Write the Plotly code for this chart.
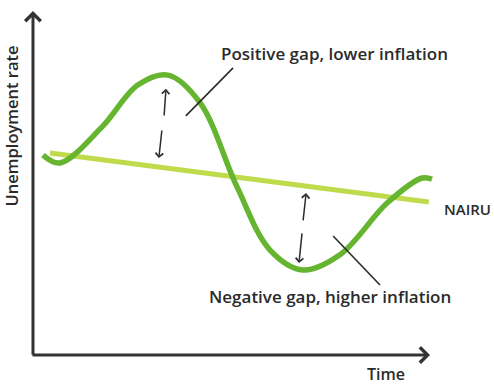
import plotly.graph_objects as go

# ---- data (chart units: time 0-100, unemployment 0-100) ----
time_pts = [2.5, 6.8, 17.4, 26.4, 34.0, 42.1, 51.4, 59.7, 68.0, 77.3, 89.2, 98.0, 100.5]
unemployment = [58.3, 56.0, 66.5, 78.7, 81.6, 73.5, 49.0, 30.6, 24.8, 29.2, 44.3, 51.6, 51.3]

nairu_time = [4.3, 99.7]
nairu_rate = [58.9, 44.6]

# gap arrows: (head_x, head_y, tail_x, tail_y)
gap_arrows = [
    (33.5, 77.6, 33.0, 69.4),
    (31.7, 57.4, 32.5, 65.9),
    (68.8, 47.2, 68.0, 38.8),
    (67.0, 26.8, 67.8, 35.9),
]

leader1_x = [38.5, 50.4]
leader1_y = [69.7, 83.7]
leader2_x = [75.6, 87.4]
leader2_y = [34.7, 20.4]

labels = {
    "pos": "Positive gap, lower inflation",
    "neg": "Negative gap, higher inflation",
    "nairu": "NAIRU",
    "x": "Time",
    "y": "Unemployment rate",
}

X_RANGE = [-8.31, 116.12]
Y_RANGE = [-9.04, 103.5]

GREEN = "#66B530"
LIME = "#BFDB4C"
INK = "#2b2b2b"
AXIS = "#333333"
FONT = dict(family="Open Sans", size=17, color=INK, weight=600)

fig = go.Figure()

fig.add_trace(go.Scatter(x=nairu_time, y=nairu_rate, mode="lines",
                         line=dict(color=LIME, width=5), hoverinfo="skip"))
fig.add_trace(go.Scatter(x=time_pts, y=unemployment, mode="lines",
                         line=dict(color=GREEN, width=5.5, shape="spline", smoothing=1.0),
                         hoverinfo="skip"))
fig.add_trace(go.Scatter(x=leader1_x, y=leader1_y, mode="lines",
                         line=dict(color=INK, width=1.6), hoverinfo="skip"))
fig.add_trace(go.Scatter(x=leader2_x, y=leader2_y, mode="lines",
                         line=dict(color=INK, width=1.6), hoverinfo="skip"))

annotations = []
# axes with arrows
annotations.append(dict(x=100, y=0, ax=-0.5, ay=0, xref="x", yref="y", axref="x", ayref="y",
                        text="", showarrow=True, arrowhead=4, arrowsize=1, arrowwidth=3,
                        arrowcolor=AXIS))
annotations.append(dict(x=0, y=100.3, ax=0, ay=-0.4, xref="x", yref="y", axref="x", ayref="y",
                        text="", showarrow=True, arrowhead=4, arrowsize=1, arrowwidth=3,
                        arrowcolor=AXIS))
for hx, hy, tx, ty in gap_arrows:
    annotations.append(dict(x=hx, y=hy, ax=tx, ay=ty, xref="x", yref="y", axref="x", ayref="y",
                            text="", showarrow=True, arrowhead=4, arrowsize=1, arrowwidth=1.5,
                            arrowcolor=INK))

annotations.append(dict(x=75.9, y=87.8, xref="x", yref="y", text=labels["pos"],
                        showarrow=False, font=FONT, xanchor="center", yanchor="middle"))
annotations.append(dict(x=74.8, y=17.2, xref="x", yref="y", text=labels["neg"],
                        showarrow=False, font=FONT, xanchor="center", yanchor="middle"))
annotations.append(dict(x=103.0, y=42.6, xref="x", yref="y", text=labels["nairu"],
                        showarrow=False, font=dict(FONT, size=15), xanchor="left", yanchor="middle"))
annotations.append(dict(x=88.9, y=-5.5, xref="x", yref="y", text=labels["x"],
                        showarrow=False, font=dict(FONT, size=16), xanchor="center", yanchor="middle"))
annotations.append(dict(x=-5.4, y=66.8, xref="x", yref="y", text=labels["y"], textangle=-90,
                        showarrow=False, font=dict(FONT, size=16.5), xanchor="center", yanchor="middle"))

fig.update_layout(
    width=494, height=386,
    margin=dict(l=0, r=0, t=0, b=0),
    paper_bgcolor="white", plot_bgcolor="white",
    showlegend=False,
    xaxis=dict(range=X_RANGE, visible=False, fixedrange=True),
    yaxis=dict(range=Y_RANGE, visible=False, fixedrange=True),
    annotations=annotations,
)

fig.write_html("out.html", config={"displayModeBar": False},
               post_script="document.body.style.margin='0';document.body.style.overflow='hidden';")
